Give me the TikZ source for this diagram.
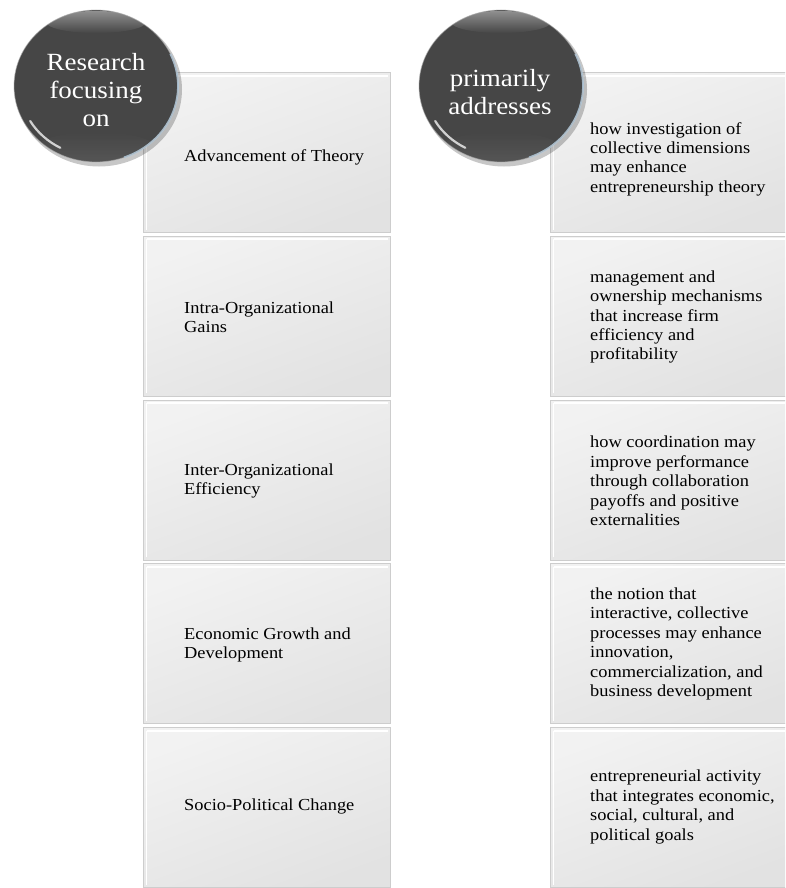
\documentclass[tikz,border=0pt]{standalone}
\usepackage{fontspec}
\setmainfont{Liberation Serif}
\usetikzlibrary{fadings}
\definecolor{boxtop}{RGB}{242,242,242}
\definecolor{boxbot}{RGB}{226,226,226}
\definecolor{boxedge}{RGB}{205,205,205}
\definecolor{ballfill}{RGB}{70,70,70}
\definecolor{rimblue}{RGB}{175,205,228}
\tikzset{
  stepbox/.style={draw=boxedge, line width=1.2pt, shading=axis, top color=boxtop, bottom color=boxbot, shading angle=20,
    inner sep=0pt, anchor=north west,
    path picture={\draw[white, line width=2pt] ([xshift=3pt,yshift=-3pt]path picture bounding box.north west) -- ([xshift=-3pt,yshift=-3pt]path picture bounding box.north east);
                  \draw[white, line width=1.2pt] ([xshift=3pt,yshift=-3pt]path picture bounding box.north west) -- ([xshift=3pt,yshift=3pt]path picture bounding box.south west);}},
  leftbox/.style={stepbox, minimum width=247pt, minimum height=160pt},
  rightbox/.style={stepbox, minimum width=240pt, minimum height=160pt},
  boxtext/.style={anchor=west, align=left, inner sep=0pt, yscale=0.915, font=\fontsize{18.4}{21.2}\selectfont, text=black},
  balltext/.style={align=center, inner sep=0pt, yscale=0.915, font=\fontsize{27}{30.6}\selectfont, text=white},
}
\begin{document}
\begin{tikzpicture}[x=1pt,y=-1pt]
\useasboundingbox (0,0) rectangle (785,888);
\clip (0,0) rectangle (785,888);
\fill[white] (0,0) rectangle (785,888);

% left column boxes
\node[leftbox] (L1) at (143,72) {};
\node[leftbox] (L2) at (143,235.75) {};
\node[leftbox] (L3) at (143,399.5) {};
\node[leftbox] (L4) at (143,563.25) {};
\node[leftbox] (L5) at (143,727) {};
% right column boxes
\node[rightbox] (R1) at (550,72) {};
\node[rightbox] (R2) at (550,235.75) {};
\node[rightbox] (R3) at (550,399.5) {};
\node[rightbox] (R4) at (550,563.25) {};
\node[rightbox] (R5) at (550,727) {};

% left texts
\node[boxtext] (LT1) at (184,157) {Advancement of Theory};
\node[boxtext] (LT2) at (184,317) {Intra-Organizational\\Gains};
\node[boxtext] (LT3) at (184,481) {Inter-Organizational\\Efficiency};
\node[boxtext] (LT4) at (184,645) {Economic Growth and\\Development};
\node[boxtext] (LT5) at (184,806) {Socio-Political Change};
% right texts
\node[boxtext] (RT1) at (590,159) {how investigation of\\collective dimensions\\may enhance\\entrepreneurship theory};
\node[boxtext] (RT2) at (590,317) {management and\\ownership mechanisms\\that increase firm\\efficiency and\\profitability};
\node[boxtext] (RT3) at (590,481) {how coordination may\\improve performance\\through collaboration\\payoffs and positive\\externalities};
\node[boxtext] (RT4) at (590,644) {the notion that\\interactive, collective\\processes may enhance\\innovation,\\commercialization, and\\business development};
\node[boxtext] (RT5) at (590,807) {entrepreneurial activity\\that integrates economic,\\social, cultural, and\\political goals};

% balls
\foreach \cx/\nm in {96/BL, 501/BR}{
  \fill[black, opacity=0.22] (\cx+3,89.5) ellipse (83 and 77);
  \fill[ballfill] (\cx,86) ellipse (82 and 76);
  \begin{scope}
    \clip (\cx,86) ellipse (82 and 76);
    \fill[white, opacity=0.4, path fading=south] (\cx,22) ellipse (50 and 11);
    \fill[white, opacity=0.10, path fading=north] (\cx,150) ellipse (62 and 18);
  \end{scope}
  \draw[rimblue, line width=1.8pt, opacity=0.85] ([shift={(-25:82 and 76)}]\cx,86) arc[start angle=-25, end angle=70, x radius=82, y radius=76];
  \draw[white, line width=2.2pt, opacity=0.75, line cap=round] ([shift={(118:76 and 70)}]\cx,86) arc[start angle=118, end angle=150, x radius=76, y radius=70];
  \draw[gray!60, line width=0.8pt, opacity=0.6] (\cx,86) ellipse (82 and 76);
}
\node[balltext] (BLT) at (96,90) {Research\\focusing\\on};
\node[balltext] (BRT) at (500,92) {primarily\\addresses};
\end{tikzpicture}
\end{document}
